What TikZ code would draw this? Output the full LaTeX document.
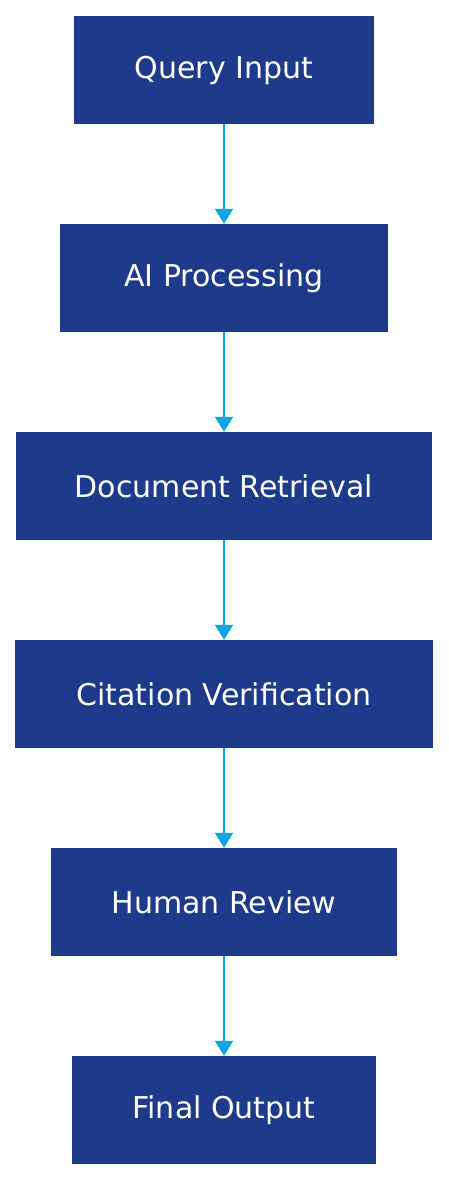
\documentclass[tikz,border=0pt]{standalone}
\usepackage{fontspec}
\setmainfont{DejaVu Sans}
\usetikzlibrary{arrows.meta,positioning}
\definecolor{boxblue}{HTML}{1E3A8A}
\definecolor{linkblue}{HTML}{0EA5E9}

\begin{document}
\begin{tikzpicture}[x=1pt,y=-1pt,>={Triangle[length=15pt,width=18pt]},
  stepbox/.style={fill=boxblue,text=white,minimum height=108pt,inner sep=0pt,font=\fontsize{30}{34}\selectfont},
  link/.style={->,linkblue,line width=1.6pt}]
\useasboundingbox (0,0) rectangle (448,1180);
\foreach \name/\y/\w/\titulo in {query/70/300/{Query Input},ai/278/328/{AI Processing},
  retrieval/486/416/{Document Retrieval},citation/694/418/{Citation Verification},
  review/902/346/{Human Review},final/1110/304/{Final Output}}{
\node[stepbox,minimum width=\w pt] (\name) at (224,\y) {\titulo};
}
\draw[link] (query) -- (ai);
\draw[link] (ai) -- (retrieval);
\draw[link] (retrieval) -- (citation);
\draw[link] (citation) -- (review);
\draw[link] (review) -- (final);
\end{tikzpicture}
\end{document}
